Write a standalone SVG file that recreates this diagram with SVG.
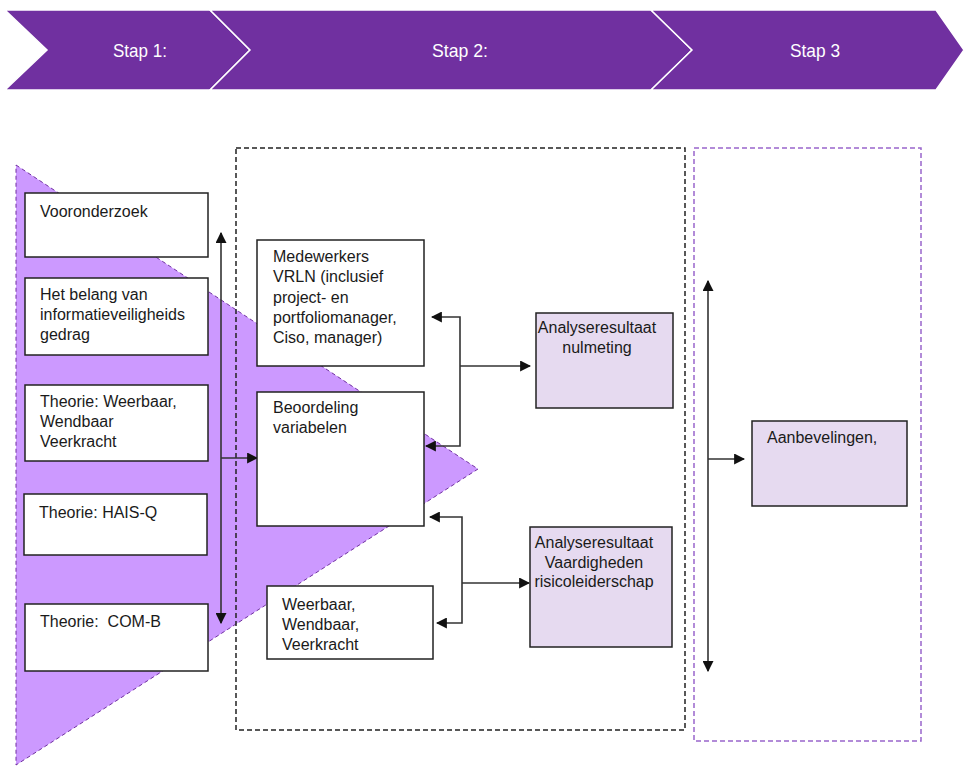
<svg xmlns="http://www.w3.org/2000/svg" width="964" height="767" viewBox="0 0 964 767">
<style>
.chev{fill:#7030A0;stroke:#ffffff;stroke-width:1.5}
.ct{font-family:"Liberation Sans",Arial,sans-serif;font-size:19px;fill:#ffffff;text-anchor:middle}
.box{fill:#ffffff;stroke:#222222;stroke-width:1.5}
.lbox{fill:#E6DAF0;stroke:#222222;stroke-width:1.5}
.t{font-family:"Liberation Sans",Arial,sans-serif;font-size:16px;fill:#1a1a1a}
.tm{font-family:"Liberation Sans",Arial,sans-serif;font-size:16px;fill:#1a1a1a;text-anchor:middle}
.con{fill:none;stroke:#333333;stroke-width:1.6}
</style>
<defs>
<marker id="ah" viewBox="0 0 10 10" refX="9" refY="5" markerWidth="11" markerHeight="11" markerUnits="userSpaceOnUse" orient="auto-start-reverse">
<path d="M0,0 L10,5 L0,10 z" fill="#111111"/>
</marker>
</defs>
<rect width="964" height="767" fill="#ffffff"/>
<g id="chevrons">
<polygon class="chev" points="5,10 210,10 250,50 210,90 5,90 47,50"/>
<polygon class="chev" points="210,10 651,10 692,50 651,90 210,90 250,50"/>
<polygon class="chev" points="651,10 936,10 964,50 936,90 651,90 692,50"/>
<text class="ct" x="140" y="57" textLength="54" lengthAdjust="spacingAndGlyphs">Stap 1:</text>
<text class="ct" x="460" y="57" textLength="56" lengthAdjust="spacingAndGlyphs">Stap 2:</text>
<text class="ct" x="815" y="57" textLength="50" lengthAdjust="spacingAndGlyphs">Stap 3</text>
</g>
<g id="triangle">
<polygon points="16,165 478,469 16,765" fill="#CC99FF" stroke="#7030A0" stroke-width="1" stroke-dasharray="4,3"/>
</g>
<g id="stage2">
<rect x="236" y="148" width="449" height="582" fill="none" stroke="#222222" stroke-width="1.5" stroke-dasharray="5,3"/>
</g>
<g id="stage3">
<rect x="694" y="148" width="227" height="593" fill="none" stroke="#9966CC" stroke-width="1.5" stroke-dasharray="5,3"/>
</g>
<g id="connectors">
<line class="con" x1="221" y1="233" x2="221" y2="623" marker-start="url(#ah)" marker-end="url(#ah)"/>
<line class="con" x1="221" y1="458" x2="257" y2="458" marker-end="url(#ah)"/>
<polyline class="con" points="432,317 460,317 460,446 426,446" marker-start="url(#ah)" marker-end="url(#ah)"/>
<line class="con" x1="460" y1="366" x2="530" y2="366" marker-end="url(#ah)"/>
<polyline class="con" points="430,517 462,517 462,623 437,623" marker-start="url(#ah)" marker-end="url(#ah)"/>
<line class="con" x1="462" y1="583" x2="529" y2="583" marker-end="url(#ah)"/>
<line class="con" x1="708" y1="281" x2="708" y2="671" marker-start="url(#ah)" marker-end="url(#ah)"/>
<line class="con" x1="708" y1="459" x2="744" y2="459" marker-end="url(#ah)"/>
</g>
<g id="vooronderzoek">
<rect class="box" x="25" y="193" width="183" height="64"/>
<text class="t" x="40" y="217">Vooronderzoek</text>
</g>
<g id="belang">
<rect class="box" x="25" y="278" width="183" height="77"/>
<text class="t" x="40" y="300">Het belang van</text>
<text class="t" x="40" y="320">informatieveiligheids</text>
<text class="t" x="40" y="340">gedrag</text>
</g>
<g id="theorie-weerbaar">
<rect class="box" x="25" y="385" width="183" height="76"/>
<text class="t" x="40" y="407">Theorie: Weerbaar,</text>
<text class="t" x="40" y="427">Wendbaar</text>
<text class="t" x="40" y="447">Veerkracht</text>
</g>
<g id="hais-q">
<rect class="box" x="24" y="494" width="183" height="61"/>
<text class="t" x="39" y="518">Theorie: HAIS-Q</text>
</g>
<g id="com-b">
<rect class="box" x="25" y="604" width="183" height="67"/>
<text class="t" x="40" y="627" xml:space="preserve">Theorie:  COM-B</text>
</g>
<g id="medewerkers">
<rect class="box" x="257" y="240" width="167" height="126"/>
<text class="t" x="273" y="262">Medewerkers</text>
<text class="t" x="273" y="282">VRLN (inclusief</text>
<text class="t" x="273" y="303">project- en</text>
<text class="t" x="273" y="323">portfoliomanager,</text>
<text class="t" x="273" y="343">Ciso, manager)</text>
</g>
<g id="beoordeling">
<rect class="box" x="257" y="392" width="167" height="134"/>
<text class="t" x="273" y="413">Beoordeling</text>
<text class="t" x="273" y="433">variabelen</text>
</g>
<g id="weerbaar">
<rect class="box" x="267" y="586" width="166" height="73"/>
<text class="t" x="282" y="610">Weerbaar,</text>
<text class="t" x="282" y="630">Wendbaar,</text>
<text class="t" x="282" y="650">Veerkracht</text>
</g>
<g id="analyse-nulmeting">
<rect class="lbox" x="536" y="313" width="137" height="95"/>
<text class="tm" x="597" y="333">Analyseresultaat</text>
<text class="tm" x="597" y="353">nulmeting</text>
</g>
<g id="analyse-vaardigheden">
<rect class="lbox" x="530" y="527" width="142" height="120"/>
<text class="tm" x="594" y="548">Analyseresultaat</text>
<text class="tm" x="594" y="568">Vaardigheden</text>
<text class="tm" x="594" y="587">risicoleiderschap</text>
</g>
<g id="aanbevelingen">
<rect class="lbox" x="752" y="421" width="155" height="85"/>
<text class="t" x="767" y="443">Aanbevelingen,</text>
</g>
</svg>
